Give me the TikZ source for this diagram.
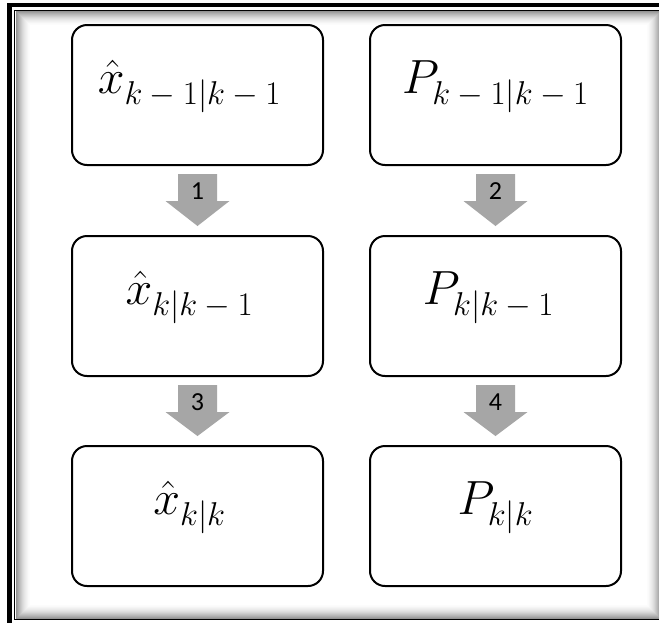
\RequirePackage{fix-cm}
\documentclass[tikz,border=0pt]{standalone}
\usepackage{fontspec}
\newfontfamily\numfont{Carlito}
\usetikzlibrary{calc}
\definecolor{arrowgray}{HTML}{A6A6A6}
\tikzset{
  box/.style={draw=black, line width=2pt, rounded corners=15pt, minimum width=251pt,
    minimum height=140pt, inner sep=0pt, fill=white, text height=20pt, text depth=24pt,
    font=\fontsize{48}{48}\selectfont},
  numlbl/.style={font=\numfont\fontsize{26}{26}\selectfont, inner sep=0pt, text=black},
  blk/.style={fill=arrowgray},
  thickframe/.style={draw=black, line width=4.5pt},
  thinframe/.style={draw=black, line width=1.5pt},
}
\newcommand\subs[1]{\raisebox{-4pt}{\fontsize{33}{33}\selectfont$#1$}}
\newcommand\blockarr[4]{%
  \fill[blk] ($(#1.south)+(-19.5,8)$) -- ($(#1.south)+(19.5,8)$) -- ($(#1.south)+(19.5,35)$)
    -- ($(#1.south)+(32,35)$) -- ($(#2.north)+(0,-9)$) -- ($(#1.south)+(-32,35)$)
    -- ($(#1.south)+(-19.5,35)$) -- cycle;
  \node[numlbl] (#3) at ($(#1.south)+(0,25)$) {#4};
}
\begin{document}
\begin{tikzpicture}[x=1pt,y=-1pt]
  \useasboundingbox (0,0) rectangle (659,622);
  \clip (0,0) rectangle (659,622);
  \fill[white] (0,0) rectangle (659,622);
  % outer frame
  \draw[thickframe] (9.5,5) rectangle (700,700);
  % inner shadow
  \foreach \i in {0,...,15} {
    \pgfmathtruncatemacro\g{(16-\i)*(16-\i)/6}
    \fill[black!\g] ({15.5+\i},{11+\i}) rectangle ({661-\i},{619-\i});
  }
  \fill[white] (31.5,27) rectangle (645,603);
  \draw[thinframe] (14.5,10.5) rectangle (665,619.5);

  % boxes
  \node[box] (xa) at (197.5,95)  {$\hat{x}_{\subs{k-1|k-1}}$\hspace*{16pt}};
  \node[box] (pa) at (495.5,95)  {$P_{\subs{k-1|k-1}}$};
  \node[box] (xb) at (197.5,306) {$\hat{x}_{\subs{k|k-1}}$\hspace*{16pt}};
  \node[box] (pb) at (495.5,306) {$P_{\subs{k|k-1}}$\hspace*{14pt}};
  \node[box] (xc) at (197.5,516) {$\hat{x}_{\subs{k|k}}$\hspace*{16pt}};
  \node[box] (pc) at (495.5,516) {$P_{\subs{k|k}}$};

  % arrows
  \blockarr{xa}{xb}{n1}{1}
  \blockarr{pa}{pb}{n2}{2}
  \blockarr{xb}{xc}{n3}{3}
  \blockarr{pb}{pc}{n4}{4}
\end{tikzpicture}
\end{document}
